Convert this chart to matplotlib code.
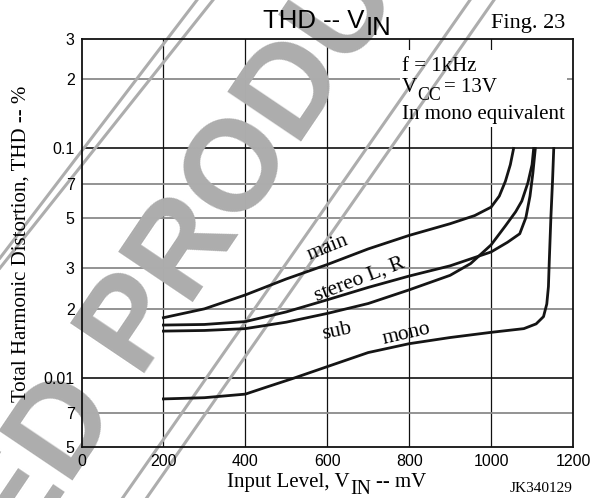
import matplotlib
matplotlib.use("Agg")
import matplotlib.pyplot as plt
from matplotlib.lines import Line2D
from matplotlib.patches import Rectangle

# ---- data ----
main_x = [200, 300, 400, 500, 600, 700, 800, 900, 960, 1000, 1020, 1035, 1047, 1055]
main_y = [0.0183, 0.0200, 0.0230, 0.0270, 0.0312, 0.0365, 0.0418, 0.0470, 0.0510,
          0.0555, 0.062, 0.072, 0.085, 0.100]

stereo_x = [200, 300, 400, 500, 600, 700, 800, 900, 1000, 1040, 1070, 1085, 1095, 1102, 1108]
stereo_y = [0.0170, 0.0171, 0.0176, 0.0194, 0.0219, 0.0248, 0.0278, 0.0308, 0.0354,
            0.0390, 0.0425, 0.050, 0.062, 0.078, 0.100]

sub_x = [200, 300, 400, 500, 600, 700, 800, 900, 950, 1000, 1035, 1060, 1075, 1090, 1100, 1104]
sub_y = [0.0160, 0.0161, 0.0164, 0.0175, 0.0191, 0.0211, 0.0242, 0.0280, 0.0315,
         0.0380, 0.046, 0.053, 0.059, 0.071, 0.085, 0.100]

mono_x = [200, 300, 400, 450, 520, 600, 700, 800, 900, 1000, 1080, 1110, 1128, 1136,
          1140, 1142, 1146, 1150, 1153]
mono_y = [0.0081, 0.0082, 0.0085, 0.0091, 0.0100, 0.0112, 0.0129, 0.0141, 0.0150,
          0.0158, 0.0164, 0.0172, 0.0185, 0.0210, 0.025, 0.032, 0.050, 0.072, 0.100]

x_ticks = [0, 200, 400, 600, 800, 1000, 1200]
x_tick_labels = ["0", "200", "400", "600", "800", "1000", "1200"]
y_ticks = [0.005, 0.007, 0.01, 0.02, 0.03, 0.05, 0.07, 0.1, 0.2, 0.3]
y_tick_labels = ["5", "7", "0.01", "2", "3", "5", "7", "0.1", "2", "3"]
major_y = [0.01, 0.1]
minor_y = [0.007, 0.02, 0.03, 0.05, 0.07, 0.2]
grid_x = [200, 400, 600, 800, 1000]

W, H = 596, 498
fig = plt.figure(figsize=(W / 100, H / 100), dpi=100)
renderer = fig.canvas.get_renderer()

def fx(px):
    return px / W

def fy(py):
    return 1 - py / H

def draw_parts(x_px, y_px, parts, fontsize, family, center=False, zorder=4):
    """parts: list of (text, dy_px, scale, gap_before_px)"""
    texts = []
    x = x_px
    for s, dy, scale, gap in parts:
        x += gap
        t = fig.text(fx(x), fy(y_px + dy), s, ha='left', va='baseline',
                     fontsize=fontsize * scale, family=family, zorder=zorder)
        w = t.get_window_extent(renderer).width
        texts.append((t, x, y_px + dy))
        x += w
    if center:
        shift = (x - x_px) / 2
        for t, tx, ty in texts:
            t.set_position((fx(tx - shift), fy(ty)))
    return texts

L, R, T, B = 81.5, 573, 39, 447
ax = fig.add_axes([fx(L), fy(B), fx(R) - fx(L), fy(T) - fy(B)])
ax.set_yscale('log')
ax.set_xlim(0, 1200)
ax.set_ylim(0.005, 0.3)
ax.set_xticks(x_ticks)
ax.set_xticklabels(x_tick_labels)
ax.set_yticks(y_ticks)
ax.set_yticklabels(y_tick_labels)
ax.minorticks_off()
ax.tick_params(length=0, pad=5, labelsize=11.5)
for lab in ax.get_xticklabels() + ax.get_yticklabels():
    lab.set_fontfamily('Liberation Sans')
ax.xaxis.set_zorder(4.5)
ax.yaxis.set_zorder(4.5)
for s in ax.spines.values():
    s.set_linewidth(1.3)
    s.set_color('#111111')
    s.set_zorder(5)

for xv in grid_x:
    ax.axvline(xv, color='#111111', lw=0.9, zorder=1)
for yv in major_y:
    ax.axhline(yv, color='#111111', lw=1.2, zorder=1)
for yv in minor_y:
    ax.axhline(yv, color='#8a8a8a', lw=1.3, zorder=1)

# white box behind the condition text
ax.add_patch(Rectangle((fx(400), fy(127)), fx(567) - fx(400), fy(50) - fy(127),
                       transform=fig.transFigure, facecolor='white', edgecolor='none',
                       zorder=1.1))

# watermark
wm = '#adadad'
ax.text(fx(34), fy(538), "DISCONTINUED PRODUCT", transform=fig.transFigure,
        rotation=56, rotation_mode='anchor', ha='center', va='baseline',
        fontsize=93, fontweight='bold', family='Liberation Sans', color=wm,
        zorder=1.2, clip_on=False)
for (x0, y0, x1, y1) in [(0, 258, 197, 0), (0, 268, 213, 0),
                         (122.6, 498, 470, 0), (146.6, 498, 494, 0)]:
    ax.add_line(Line2D([fx(x0), fx(x1)], [fy(y0), fy(y1)], transform=fig.transFigure,
                       color=wm, lw=2.2, zorder=1.2, clip_on=False))

for xs, ys in [(main_x, main_y), (stereo_x, stereo_y), (sub_x, sub_y), (mono_x, mono_y)]:
    ax.plot(xs, ys, color='#151515', lw=2.0, zorder=3, solid_joinstyle='round')

serif = 'Liberation Serif'
# curve labels
for txt, px, py, rot in [("main", 328, 248, 22), ("stereo L, R", 360, 280, 21),
                         ("sub", 337, 331, 12), ("mono", 406, 334, 13)]:
    ax.text(fx(px), fy(py), txt, transform=fig.transFigure, rotation=rot, ha='center',
            va='center', family=serif, fontsize=15.5, zorder=4, rotation_mode='anchor')

# condition text
fig.text(fx(402), fy(71), "f = 1kHz", ha='left', va='baseline', family=serif, fontsize=15)
draw_parts(402, 92.5, [("V", 0, 1.0, 0), ("CC", 7, 0.85, 0.5), ("= 13V", 0, 1.0, 3)],
           15, serif)
fig.text(fx(402), fy(119.5), "In mono equivalent", ha='left', va='baseline', family=serif,
         fontsize=15)

# titles and axis labels
draw_parts(263, 28.5, [("THD -- V", 0, 1.0, 0), ("IN", 6.5, 1.0, 1.5)], 18.5,
           'Liberation Sans')
fig.text(fx(565), fy(28), "Fing. 23", ha='right', va='baseline', family=serif, fontsize=16)
draw_parts(327, 487, [("Input Level, V", 0, 1.0, 0), ("IN", 7, 0.95, 0.5),
                      ("-- mV", 0, 1.0, 5)], 15, serif, center=True)
fig.text(fx(21), fy(244), "Total Harmonic Distortion, THD -- %", rotation=90, ha='center',
         va='center', family=serif, fontsize=15)
fig.text(fx(573), fy(492), "JK340129", ha='right', va='baseline', family=serif, fontsize=11)

fig.savefig("out.png", dpi=100)
